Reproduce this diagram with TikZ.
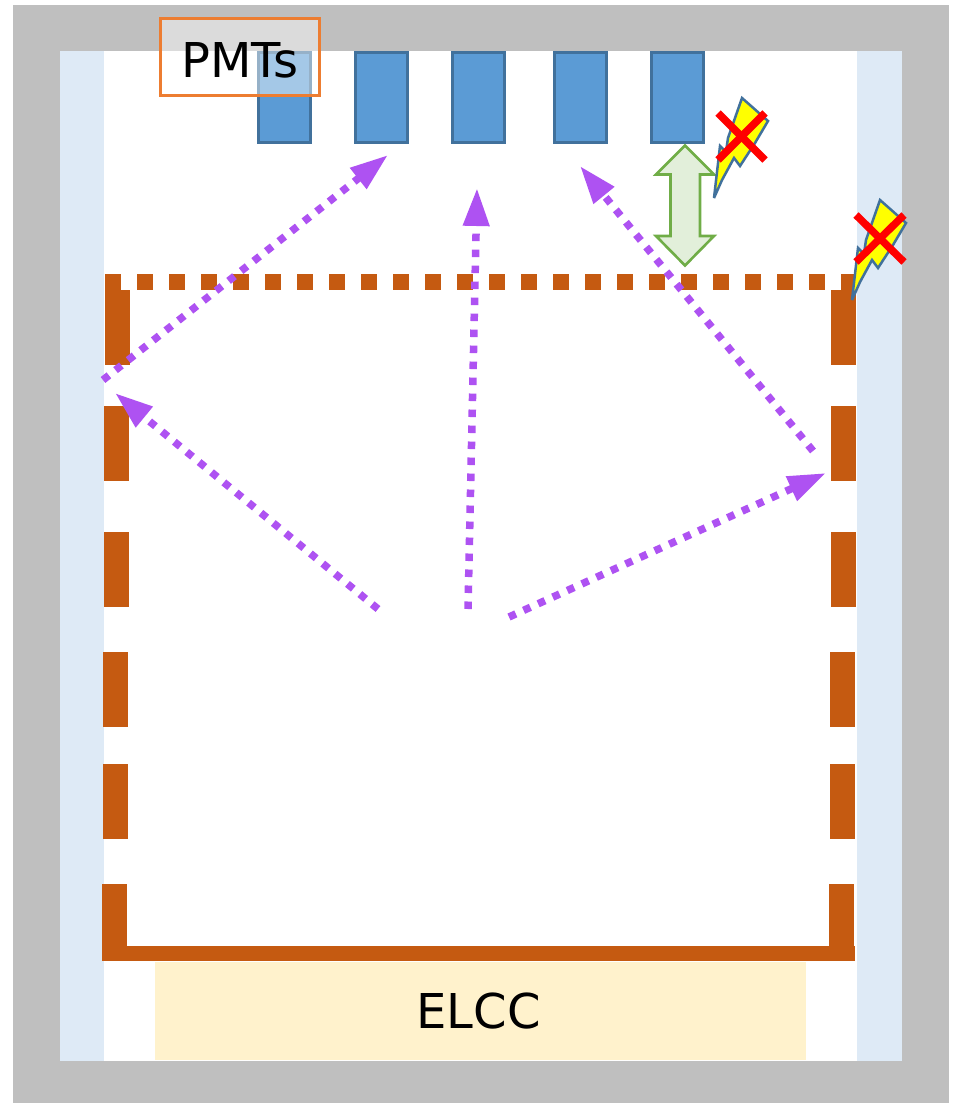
\documentclass[tikz,border=0pt]{standalone}
\usepackage{fontspec}
\setmainfont{DejaVu Sans}
\usetikzlibrary{arrows.meta}
\definecolor{grayframe}{HTML}{BFBFBF}
\definecolor{wallblue}{HTML}{DEEAF6}
\definecolor{elcc}{HTML}{FFF2CC}
\definecolor{pmtfill}{HTML}{5B9BD5}
\definecolor{pmtline}{HTML}{41719C}
\definecolor{mesh}{HTML}{C55A11}
\definecolor{ray}{HTML}{AE52F2}
\definecolor{boxline}{HTML}{ED7D31}
\definecolor{arrline}{HTML}{70AD47}
\definecolor{arrfill}{HTML}{E2EFDA}
\definecolor{boltfill}{HTML}{FFFF00}
\definecolor{crossred}{HTML}{FF0000}
\tikzset{
  x=1pt,y=-1pt,
  pmt/.style={fill=pmtfill,draw=pmtline,line width=3pt},
  meshbar/.style={fill=mesh,draw=none},
  rayline/.style={draw=ray,line width=7.5pt,dash pattern=on 7.5pt off 8.5pt,-{Triangle[length=38pt,width=25pt,fill=ray]}},
  bolt/.style={fill=boltfill,draw=pmtline,line width=2.5pt,miter limit=6},
  crossline/.style={draw=crossred,line width=7.5pt},
  lab/.style={font=\fontsize{48}{58}\selectfont,text=black,inner sep=0pt}
}
\newcommand{\boltat}[2]{%
  \begin{scope}[shift={(#1,#2)}]
    \draw[bolt] (0,0) -- (6,-52) -- (12,-46) -- (14,-60) -- (28,-100) -- (54,-77) -- (41,-55) -- (26,-32) -- (20,-40) -- (8,-18) -- cycle;
  \end{scope}}
\begin{document}
\begin{tikzpicture}
\useasboundingbox (0,0) rectangle (953,1103);
\fill[white] (0,0) rectangle (953,1103);
\fill[grayframe] (13,5) rectangle (949,1103);
\fill[white] (60,51) rectangle (902,1061);
\fill[wallblue] (60,51) rectangle (104,1061);
\fill[wallblue] (857,51) rectangle (902,1061);
\fill[elcc] (155,962) rectangle (806,1060);
\node[lab] (elcc) at (478.5,1011) {ELCC};
% PMTs
\draw[pmt] (258,52.5) rectangle (310,142);
\draw[pmt] (355,52.5) rectangle (407,142);
\draw[pmt] (452.5,52.5) rectangle (504.5,142);
\draw[pmt] (554,52.5) rectangle (606,142);
\draw[pmt] (651,52.5) rectangle (703,142);
\draw[boxline,line width=3pt,fill=white,fill opacity=.45] (160.5,18.5) rectangle (319.5,95.5);
\node[lab] (pmts) at (240,60) {PMTs};
% mesh
\draw[mesh,line width=16pt,dash pattern=on 16pt off 16pt] (105,282) -- (855,282);
\fill[meshbar] (105,290) rectangle (130,365);
\fill[meshbar] (104,406) rectangle (129,481);
\fill[meshbar] (104,532) rectangle (129,607);
\fill[meshbar] (103,652) rectangle (128,727);
\fill[meshbar] (103,764) rectangle (128,839);
\fill[meshbar] (102,884) rectangle (127,961);
\fill[meshbar] (831,290) rectangle (856,365);
\fill[meshbar] (831,406) rectangle (856,481);
\fill[meshbar] (831,532) rectangle (856,607);
\fill[meshbar] (830,652) rectangle (855,727);
\fill[meshbar] (830,764) rectangle (855,839);
\fill[meshbar] (829,884) rectangle (854,950);
\fill[meshbar] (102,946) rectangle (855,961);
% rays
\coordinate (a1) at (103,380); \coordinate (b1) at (388,155);
\coordinate (a2) at (378,609); \coordinate (b2) at (115,393);
\coordinate (a3) at (468,609); \coordinate (b3) at (477,188);
\coordinate (a4) at (509,617); \coordinate (b4) at (826,473);
\coordinate (a5) at (813,451); \coordinate (b5) at (580,166);
\draw[rayline] (a1) -- (b1);
\draw[rayline] (a2) -- (b2);
\draw[rayline] (a3) -- (b3);
\draw[rayline] (a4) -- (b4);
\draw[rayline] (a5) -- (b5);
% double arrow
\draw[draw=arrline,fill=arrfill,line width=2.6pt,line join=miter]
 (685,145.5) -- (714,174.5) -- (700,174.5) -- (700,236) -- (714,236) -- (685,265.5) -- (656,236) -- (670.5,236) -- (670.5,174.5) -- (656,174.5) -- cycle;
% bolts
\boltat{714}{198}
\boltat{852}{300}
\draw[crossline] (718,113) -- (765,160);
\draw[crossline] (718,160) -- (765,113);
\draw[crossline] (856,215) -- (904,262);
\draw[crossline] (856,262) -- (904,215);
\end{tikzpicture}
\end{document}
